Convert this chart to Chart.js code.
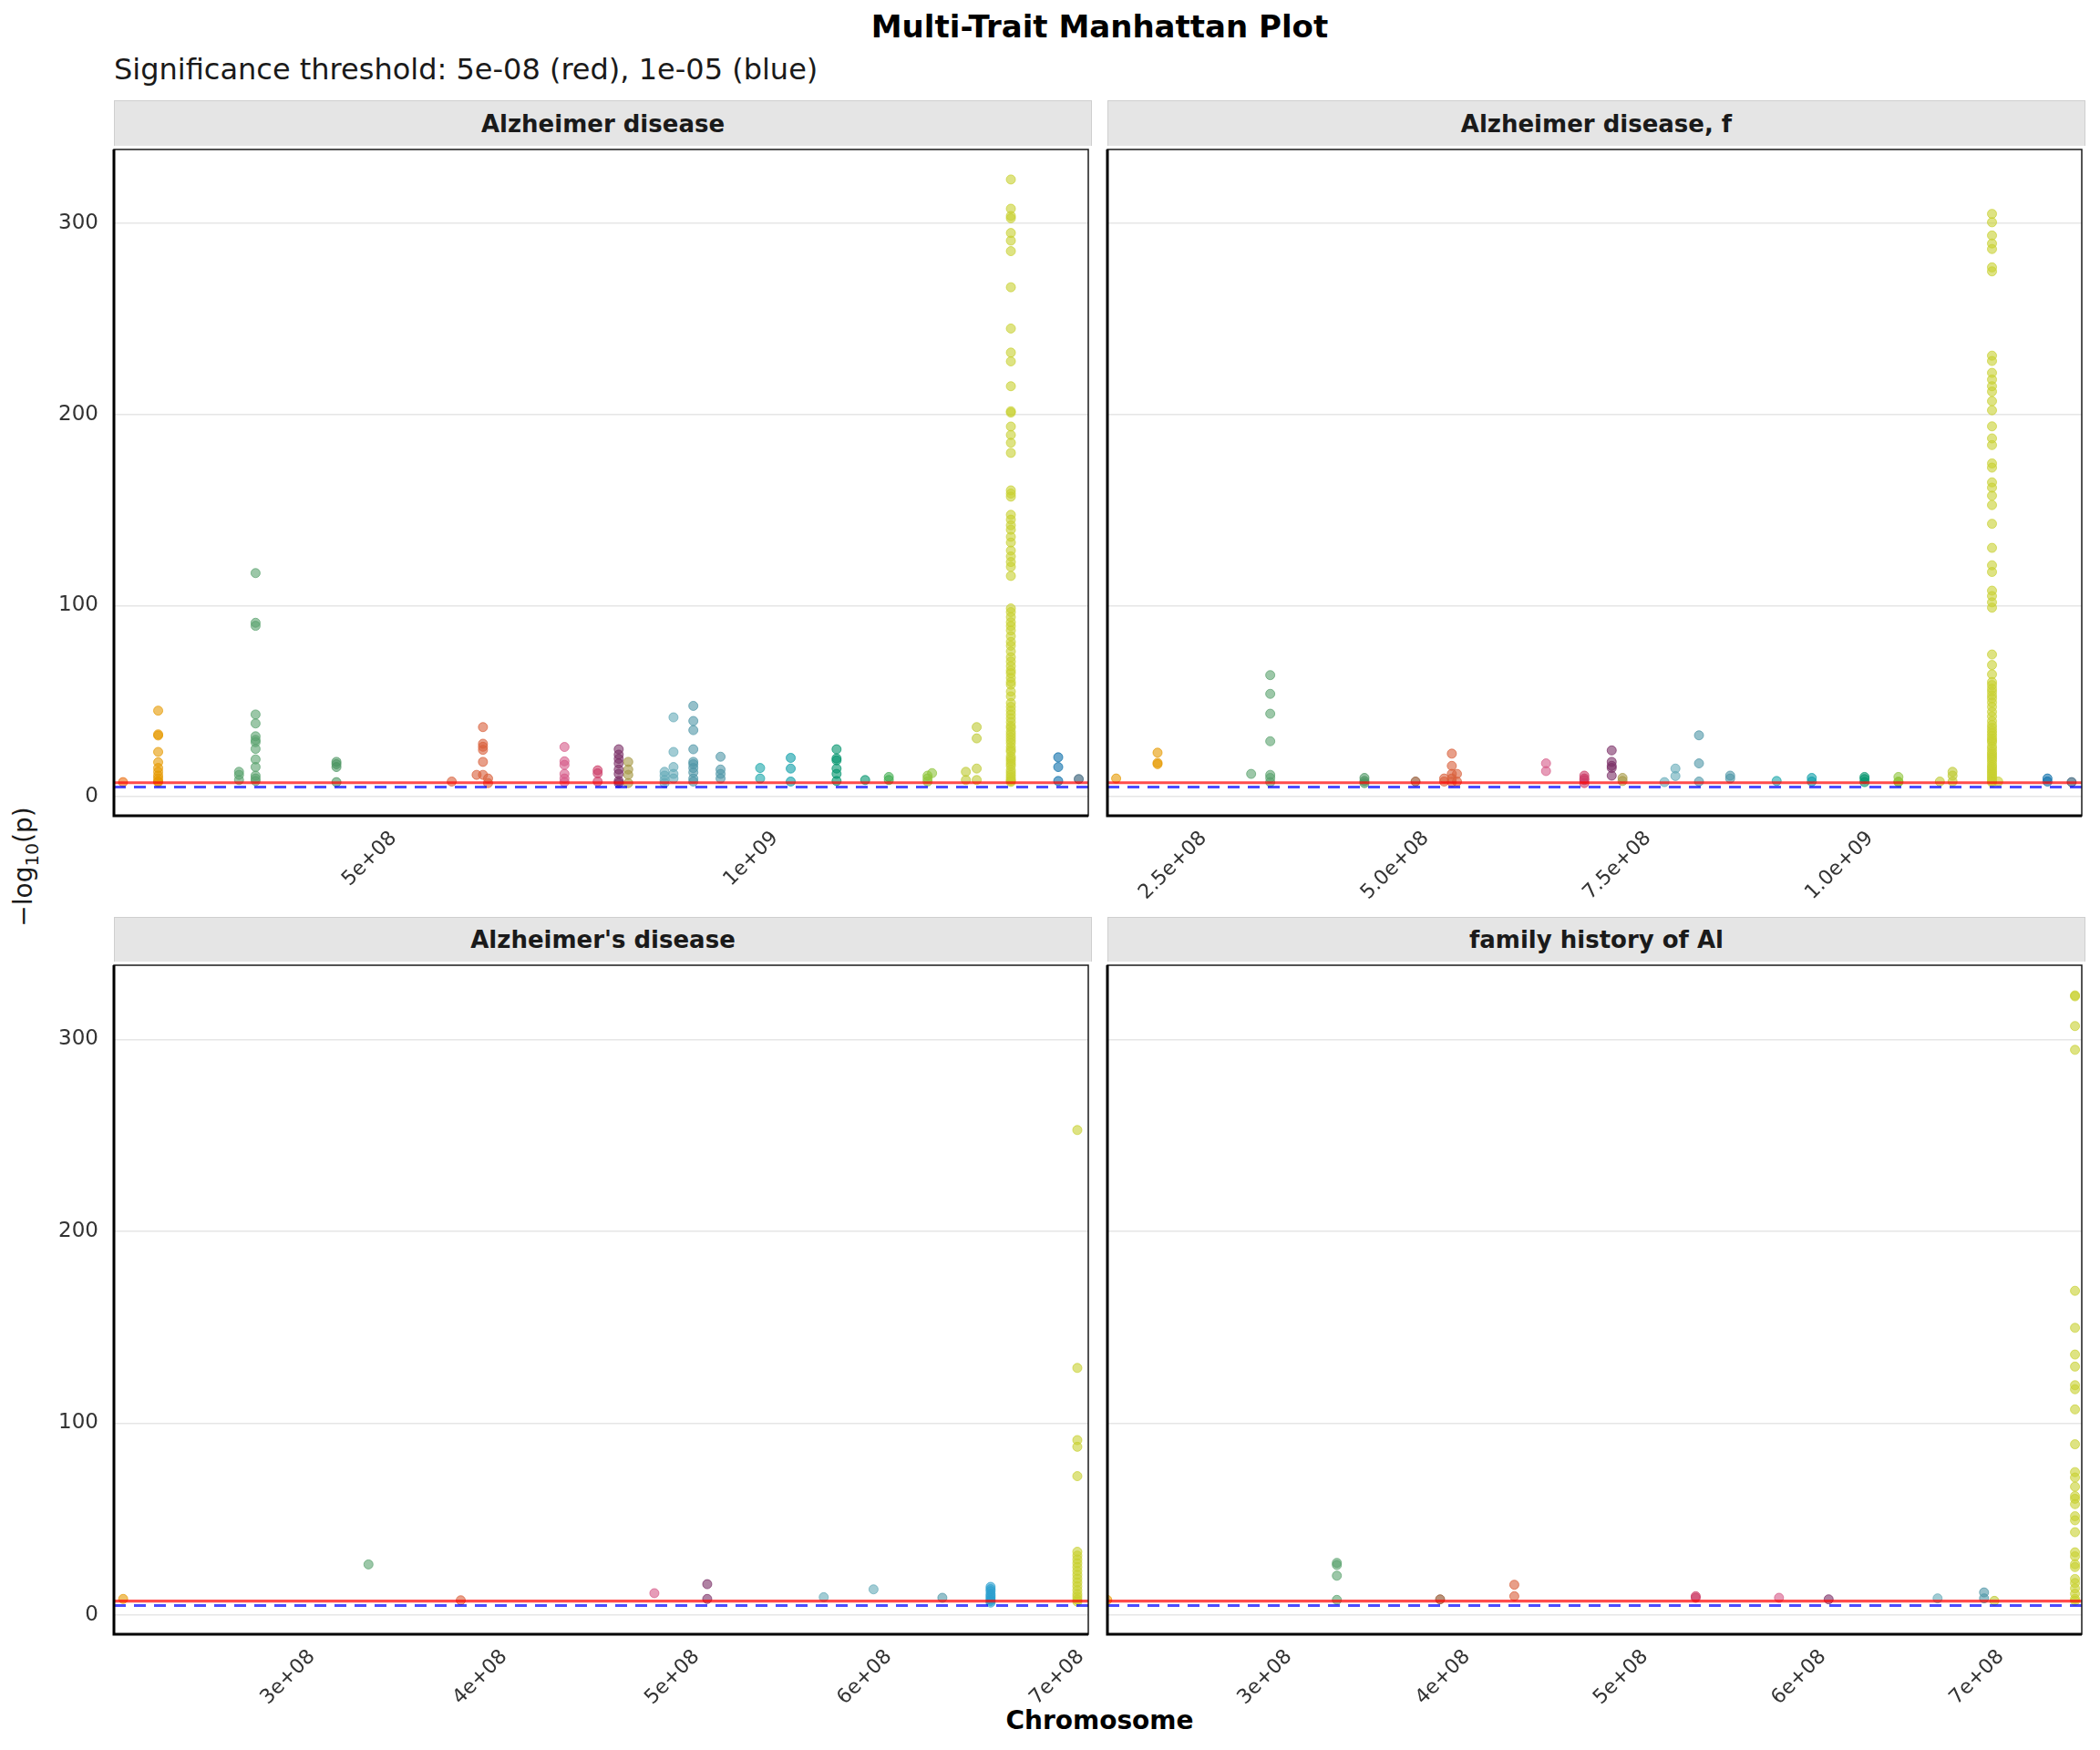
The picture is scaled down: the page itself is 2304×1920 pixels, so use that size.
<!DOCTYPE html>
<html><head><meta charset="utf-8">
<script src="https://cdn.jsdelivr.net/npm/chart.js@4.4.0/dist/chart.umd.min.js"></script>
<style>
body{margin:0;width:2304px;height:1920px;background:#fff;position:relative;overflow:hidden;font-family:'DejaVu Sans',sans-serif;}
.txt{position:absolute;white-space:nowrap;color:#000;}
.strip{position:absolute;background:#e5e5e5;border:1.5px solid #cfcfcf;border-bottom:none;box-sizing:border-box;display:flex;align-items:center;justify-content:center;font-weight:bold;font-size:26px;color:#1a1a1a;}
canvas{position:absolute;}
</style></head><body>
<div class="txt" id="title" style="left:125px;width:2163px;top:9px;line-height:40px;text-align:center;font-weight:bold;font-size:34px;">Multi-Trait Manhattan Plot</div>
<div class="txt" id="subtitle" style="left:125px;top:56px;line-height:40px;font-size:32px;color:#1a1a1a;">Significance threshold: 5e-08 (red), 1e-05 (blue)</div>
<div class="txt" style="left:-174px;top:934px;width:400px;height:34px;line-height:34px;text-align:center;transform:rotate(-90deg);font-size:28px;color:#1a1a1a;">&minus;log<span style="font-size:20px;position:relative;top:7px;">10</span>(p)</div>
<div class="txt" style="left:125px;width:2163px;top:1868px;line-height:40px;text-align:center;font-weight:bold;font-size:28px;">Chromosome</div>
<script>
// ---------------- data ----------------
const panelTitles = ["Alzheimer disease", "Alzheimer disease, f", "Alzheimer's disease", "family history of Al"];
const redThreshold = 7.30103;   // -log10(5e-8)
const blueThreshold = 5;        // -log10(1e-5)
const yTickValues = [0, 100, 200, 300];
const yMin = -10, yMax = 338.7;

// Panel 1: Alzheimer disease
const adChr = [1,2,3,3,4,6,6,6,6,7,8,9,10,11,11,12,12,13,14,15,15,16,17,17,18,18,19,21,22];
const adPosMb = [145.2,191.3,297.3,319.0,425.0,576.2,608.8,617.1,623.8,724.0,767.5,795.1,807.6,855.2,866.9,892.9,928.6,980.5,1020.6,1080.7,1118.2,1149.2,1200.0,1205.9,1250.2,1264.4,1309.2,1371.3,1398.2];
const adLogP = [
 [7.6],
 [45,32.6,32,23.4,18,15,13,11,9.5,8,7.6],
 [13,11.4,8.7],
 [117,91,89.4,43,38.3,31.6,29.7,28.5,25,19.5,15.5,11,9.5,8.2],
 [18.2,17,15.5,7.6],
 [7.9],
 [11.4],
 [36.4,27.7,26.1,24.5,18.2,11.4],
 [9.5,7.1],
 [26,18.5,16.6,11.9,9.5,7.6],
 [13.8,12.2,7.9],
 [24.8,22,19.8,17.4,14.2,11.9,8.2,7.1],
 [18.2,14.2,11.4,7.1],
 [13,11,8.7,7.1],
 [41.5,23.4,15.5,11.9,9.5],
 [47.5,39.6,34.8,24.8,18.2,17,15,12.7,9.5,7.9],
 [20.9,14.2,11.9,9.5],
 [15,9.5],
 [20.3,14.7,7.9],
 [24.8,20,19,14.7,11.9,8.2],
 [8.7],
 [10.3,8.7],
 [11,9.5,7.9],
 [12.3],
 [13,8.7],
 [36.4,30.5,14.7,8.7],
 [323,307.7,303.9,302.7,295,291,285.5,266.6,245,232.4,227.8,214.8,201.7,201,193.7,189.3,185.2,179.9,160.3,158.6,157,147.5,145,142,139.7,136,133,128.8,125.7,122.8,120.3,115.5,98.5,96.6,94,91.3,89.3,87,84,81,79,76,73,70.7,68.3,66,64.6,62.2,60,58.6,55,52.5,49,47,45,43,41,39,37,36,34,32.5,31,29.5,28,26,24.5,23.5,21,19.8,18.6,17.2,16,14,12.7,11.4,10.2,9,8.3,7.7],
 [20.6,15.5,8.2],
 [9.2]
];

// Panel 2: Alzheimer disease, f
const adfChr = [2,2,3,3,4,5,6,6,6,7,8,9,10,11,11,12,12,13,14,15,17,18,18,19,19,21,22];
const adfPosMb = [151.5,198.1,303.4,324.9,430.9,488.4,520.6,529.2,535.0,635.2,678.3,709.1,721.3,768.5,780.8,807.3,842.4,894.7,934.2,993.6,1031.7,1078.3,1092.6,1137.0,1144.0,1199.4,1226.6];
const adfLogP = [
 [9.5],
 [23,17.7,17],
 [11.9],
 [63.6,53.8,43.4,29,11.4,9.8,7.6],
 [9.8,8.2,7.1],
 [7.9],
 [9.5,7.9],
 [22.5,16.1,11.9,9.5,7.6],
 [11.9,7.9],
 [17.4,13.4],
 [11,9.5,8.7,7.1],
 [24.2,18.2,16.1,15,11],
 [9.8,8.2],
 [7.6],
 [14.7,10.8],
 [32.1,17.4,7.9],
 [11,9.5],
 [8.2],
 [9.8,7.9],
 [10.3,9.2,7.6],
 [10.3,7.9,7.6],
 [7.9],
 [13,11,7.9],
 [305,300.6,293.7,289.5,286.6,277,274.9,230.8,228,221.8,218.3,214.8,212,207,202.2,193.8,187.5,184,174.4,172.2,164.5,161.7,157.5,152.6,142.8,130.2,121.1,117.6,107.8,105,101.7,98.9,74.4,68.9,64,60,58.4,56.5,54.9,53,51.4,49.3,47,44.4,42,39.5,37.5,36,34.5,33.2,31.8,30.4,29.4,28.4,26.3,25,23.5,22.4,21.4,20.3,19.3,18,16.5,15.5,14.4,13.3,12.3,11.2,10.2,9.2,8.1,7.5],
 [7.9],
 [9.5,7.9],
 [7.6]
];

// Panel 3: Alzheimer's disease
const adsChr = [2,3,6,7,9,11,11,12,20,19];
const adsPosMb = [201.8,329.4,377.4,478.1,505.6,566.2,592.1,627.9,653.0,698.1];
const adsLogP = [[8.4],[26.4],[7.7],[11.4],[16.1,8.4],[9.3],[13.4],[9],[14.7,13.5,12.5,11,10,9,8,7.3,6.5],
 [252.8,128.8,91.2,87.7,72.4,33,31,29,27,25,23,21,19,17,15,13,11,9.5,8,7]];

// Panel 4: family history of Al
const fhChr = [2,3,5,6,8,7,9,11,12,18,19];
const fhPosMb = [197.9,326.9,384.9,426.6,528.5,575.3,603.2,664.4,690.5,696.3,741.6];
const fhLogP = [[8.7,7.9],[27.2,26.1,20.5,7.9],[8.2],[15.8,9.8],[9.8,9],[9],[8.2],[8.7],[11.8,8.7],[7.4],
 [323,322.5,307,294.6,169,149.7,135.8,129.5,119.8,117.7,107.2,89,74.5,71.7,66.9,62,60.6,57.8,51.5,49.4,43.2,32.7,30.6,26.5,25,18.8,16.7,13.9,11.1,8.4,7.4]];

// x axes (cumulative position)
const xMinMb = [133.3, 141.7, 197.0, 198.0];
const xMaxMb = [1410.7, 1238.0, 703.8, 745.4];
const xTickValues = [[5e8,1e9],[2.5e8,5e8,7.5e8,1e9],[3e8,4e8,5e8,6e8,7e8],[3e8,4e8,5e8,6e8,7e8]];
const xTickLabels = [["5e+08","1e+09"],["2.5e+08","5.0e+08","7.5e+08","1.0e+09"],
  ["3e+08","4e+08","5e+08","6e+08","7e+08"],["3e+08","4e+08","5e+08","6e+08","7e+08"]];

// ---------------- styles ----------------
const chromColors = {
 1:'#EA6E10', 2:'#E69A00', 3:'#5AA26E', 4:'#4A9460', 5:'#8B4A22', 6:'#D95F3A',
 7:'#D65A88', 8:'#CC3A66', 9:'#7A2E66', 10:'#A59845', 11:'#64AAB8', 12:'#4E96A6',
 13:'#1AA6AA', 14:'#0A9CA6', 15:'#00946C', 16:'#3EAC4E', 17:'#8EC43A', 18:'#BEC932',
 19:'#C8D030', 20:'#2B9FCF', 21:'#0A6EAA', 22:'#2C5670'
};
const panelBoxes = [
 {left:125, top:160, right:1198, bottom:895, showY:true},
 {left:1215, top:160, right:2288, bottom:895, showY:false},
 {left:125, top:1055, right:1198, bottom:1793, showY:true},
 {left:1215, top:1055, right:2288, bottom:1793, showY:false}
];
const stripBoxes = [{top:110,h:50},{top:110,h:50},{top:1006,h:49},{top:1006,h:49}];

function rgba(hex, a){
  const n = parseInt(hex.slice(1),16);
  return `rgba(${(n>>16)&255},${(n>>8)&255},${n&255},${a})`;
}

const borderPlugin = {
  id:'panelBorder',
  afterDraw(chart){
    const {ctx, chartArea:a} = chart;
    ctx.save();
    ctx.strokeStyle = '#1a1a1a'; ctx.lineWidth = 1.5;
    ctx.strokeRect(a.left, a.top, a.right-a.left, a.bottom-a.top);
    ctx.strokeStyle = '#000'; ctx.lineWidth = 3;
    ctx.beginPath(); ctx.moveTo(a.left, a.top); ctx.lineTo(a.left, a.bottom); ctx.lineTo(a.right, a.bottom); ctx.stroke();
    ctx.restore();
  }
};

const panelData = [
 [adChr, adPosMb, adLogP],
 [adfChr, adfPosMb, adfLogP],
 [adsChr, adsPosMb, adsLogP],
 [fhChr, fhPosMb, fhLogP]
];

panelData.forEach((pd, p) => {
  const [chr, pos, logp] = pd;
  const box = panelBoxes[p];
  const L = box.showY ? 125 : 10;
  const B = p < 2 ? 150 : 125;
  const cw = L + (box.right - box.left) + 2;
  const ch = (box.bottom - box.top) + 2 + B;

  // strip
  const s = document.createElement('div');
  s.className = 'strip';
  s.style.left = box.left + 'px'; s.style.width = (box.right - box.left) + 'px';
  s.style.top = stripBoxes[p].top + 'px'; s.style.height = stripBoxes[p].h + 'px';
  s.textContent = panelTitles[p];
  document.body.appendChild(s);

  const cv = document.createElement('canvas');
  cv.width = cw; cv.height = ch;
  cv.style.left = (box.left - L) + 'px'; cv.style.top = (box.top - 2) + 'px';
  cv.style.width = cw + 'px'; cv.style.height = ch + 'px';
  document.body.appendChild(cv);

  const pts = [], bg = [], bd = [];
  chr.forEach((c, i) => {
    logp[i].forEach(v => {
      pts.push({x: pos[i] * 1e6, y: v});
      bg.push(rgba(chromColors[c], 0.6));
      bd.push(rgba(chromColors[c], 0.7));
    });
  });
  const xMin = xMinMb[p] * 1e6, xMax = xMaxMb[p] * 1e6;

  new Chart(cv, {
    type: 'scatter',
    data: { datasets: [
      {type:'line', data:[{x:xMin,y:redThreshold},{x:xMax,y:redThreshold}], borderColor:'rgba(255,0,0,0.7)', borderWidth:3.2, pointRadius:0, order:0},
      {type:'line', data:[{x:xMin,y:blueThreshold},{x:xMax,y:blueThreshold}], borderColor:'rgba(0,0,255,0.7)', borderWidth:3, borderDash:[13,9], pointRadius:0, order:1},
      {type:'scatter', data:pts, backgroundColor:bg, borderColor:bd, borderWidth:1, pointRadius:5, order:2}
    ]},
    options: {
      responsive:false, animation:false, devicePixelRatio:1,
      layout:{padding:{left:0,right:2,top:2,bottom:0}},
      plugins:{legend:{display:false}, tooltip:{enabled:false}},
      scales:{
        x:{
          type:'linear', min:xMin, max:xMax,
          afterBuildTicks:(axis)=>{ axis.ticks = xTickValues[p].map(v=>({value:v})); },
          afterFit:(axis)=>{ axis.height = B; axis.paddingLeft = 0; axis.paddingRight = 0; },
          grid:{display:false, drawTicks:false},
          border:{display:false},
          ticks:{autoSkip:false, minRotation:45, maxRotation:45, padding:12,
                 font:{family:'DejaVu Sans', size:22}, color:'#333333',
                 callback:(v,i)=>xTickLabels[p][i]}
        },
        y:{
          min:yMin, max:yMax,
          afterBuildTicks:(axis)=>{ axis.ticks = yTickValues.map(v=>({value:v})); },
          afterFit:(axis)=>{ axis.width = L; axis.paddingTop = 0; axis.paddingBottom = 0; },
          grid:{color:'#e6e6e6', lineWidth:1.5, drawTicks:false},
          border:{display:false},
          ticks:{display:box.showY, padding:17, font:{family:'DejaVu Sans', size:23}, color:'#333333'}
        }
      }
    },
    plugins:[borderPlugin]
  });
});
</script>
</body></html>
